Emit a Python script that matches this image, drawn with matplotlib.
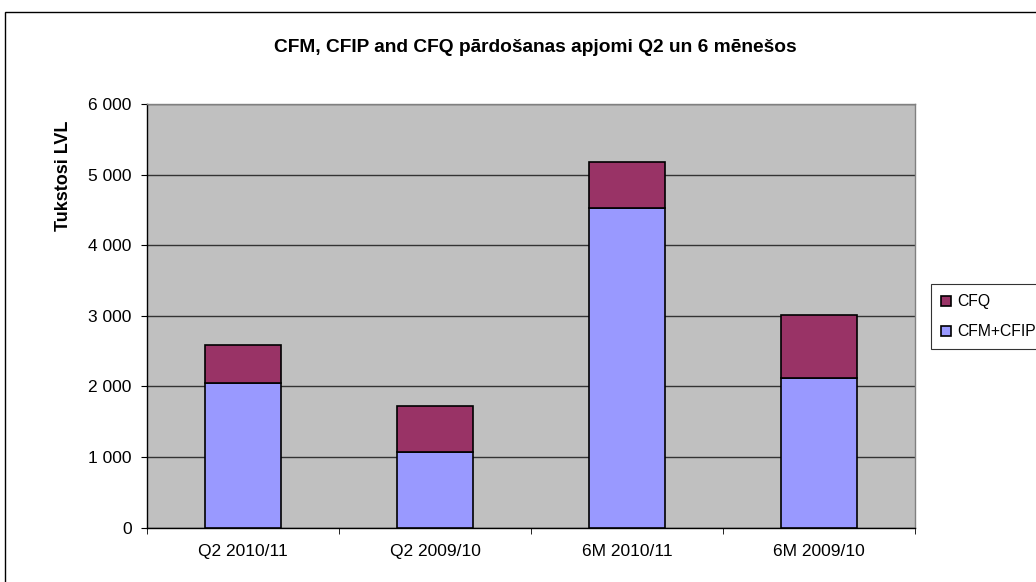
import matplotlib.pyplot as plt
from matplotlib.patches import Rectangle
from matplotlib.ticker import FuncFormatter

categories = ['Q2 2010/11', 'Q2 2009/10', '6M 2010/11', '6M 2009/10']
cfm_cfip = [2045, 1070, 4530, 2115]
cfq = [545, 655, 650, 900]

BLUE = '#9999FF'
PLUM = '#993366'
FONT = 'Liberation Sans'

plt.rcParams['font.family'] = [FONT, 'DejaVu Sans']

fig = plt.figure(figsize=(10.36, 5.82), dpi=100)
W, H = 1036, 582

# outer chart border
fig.patches.append(Rectangle((5 / W, -0.1), 1.2, 1 - 12 / H + 0.1,
                             transform=fig.transFigure, fill=False,
                             edgecolor='black', linewidth=1))

ax = fig.add_axes([147 / W, 1 - 527.5 / H, (915 - 147) / W, (527.5 - 104) / H])
ax.set_facecolor('#C0C0C0')

x = list(range(len(categories)))
b1 = ax.bar(x, cfm_cfip, width=0.4, color=BLUE, edgecolor='black',
            linewidth=1.2, label='CFM+CFIP', zorder=3)
b2 = ax.bar(x, cfq, width=0.4, bottom=cfm_cfip, color=PLUM,
            edgecolor='black', linewidth=1.2, label='CFQ', zorder=3)

ax.set_xlim(-0.5, 3.5)
ax.set_ylim(0, 6000)
ax.set_yticks(range(0, 6001, 1000))
ax.yaxis.set_major_formatter(FuncFormatter(lambda v, p: f'{int(v):,}'.replace(',', ' ')))
ax.yaxis.grid(True, color='#333333', linewidth=1, zorder=1)
ax.set_axisbelow(True)

ax.set_xticks(x)
ax.set_xticklabels(categories)
ax.set_xticks([-0.5, 0.5, 1.5, 2.5, 3.5], minor=True)
ax.tick_params(axis='x', which='major', length=0, pad=12, labelsize=12.5)
ax.tick_params(axis='x', which='minor', length=4, color='black', direction='out')
ax.tick_params(axis='y', length=4, color='black', direction='out', labelsize=12.5, pad=7)

for side in ['left', 'bottom']:
    ax.spines[side].set_color('black')
    ax.spines[side].set_linewidth(1)
for side in ['top', 'right']:
    ax.spines[side].set_color('#808080')
    ax.spines[side].set_linewidth(1)

fig.text(63 / W, 1 - 176 / H, 'Tukstosi LVL', rotation=90, ha='center',
         va='center', fontsize=13, fontweight='bold')

fig.text(535 / W, 1 - 47.5 / H, 'CFM, CFIP and CFQ pārdošanas apjomi Q2 un 6 mēnešos',
         ha='center', va='center', fontsize=13.8, fontweight='bold')

leg = fig.legend([b2, b1], ['CFQ', 'CFM+CFIP'], loc='upper left',
                 bbox_to_anchor=(931 / W, 1 - 284 / H), fontsize=11.3,
                 frameon=True, fancybox=False, handlelength=0.6,
                 handleheight=0.6, handletextpad=0.45, borderpad=0.65,
                 labelspacing=0.95, borderaxespad=0)
leg.get_frame().set_edgecolor('black')
leg.get_frame().set_linewidth(0.8)

fig.savefig('out.png', dpi=100)
